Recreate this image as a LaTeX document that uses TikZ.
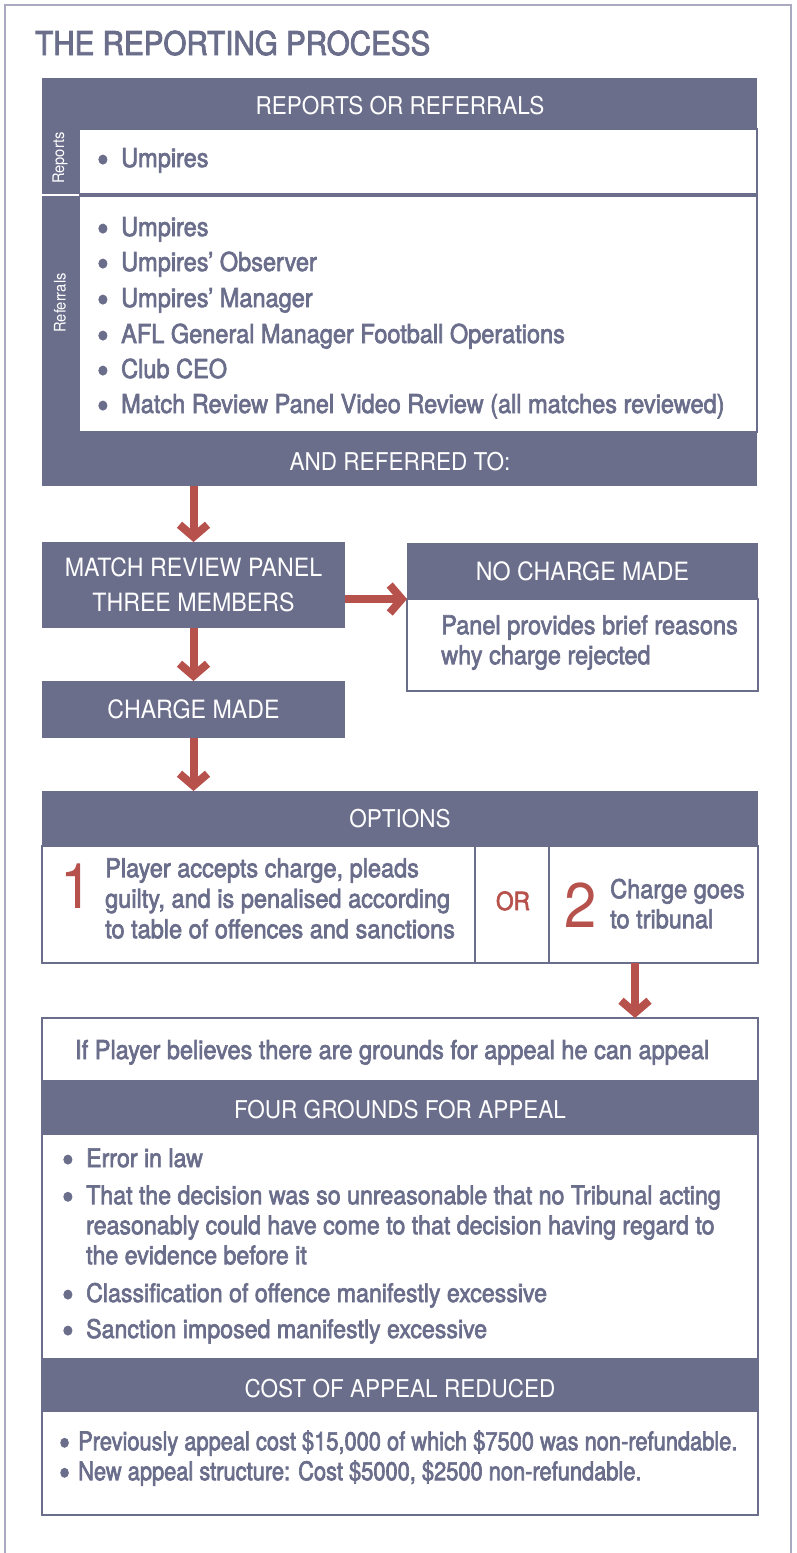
\documentclass[tikz,border=0pt]{standalone}
\usepackage{fontspec}
\setmainfont{TeX Gyre Heros}
\newfontfamily\hdf{TeX Gyre Heros}[FakeStretch=0.92]
\newfontfamily\bdf{TeX Gyre Heros}[FakeStretch=0.905,FakeBold=2.5]
\newfontfamily\cdf{TeX Gyre Heros}[FakeStretch=0.85,FakeBold=2.5]
\usetikzlibrary{arrows.meta}
\definecolor{slate}{HTML}{6A6E8B}
\definecolor{rred}{HTML}{B7514C}
\definecolor{framec}{HTML}{A9AABF}
\tikzset{
  dark/.style={fill=slate, draw=none, inner sep=0pt, outer sep=0pt},
  whitebox/.style={fill=white, draw=slate, line width=2pt, inner sep=0pt, outer sep=0pt},
  hdtext/.style={text=white, font=\hdf\fontsize{24.5}{35}\selectfont, inner sep=0pt},
  bigtext/.style={text=white, font=\hdf\fontsize{25.2}{35}\selectfont, inner sep=0pt},
  sidetext/.style={text=white, font=\hdf\fontsize{16}{18}\selectfont, inner sep=0pt, rotate=90},
  bodytext/.style={text=slate, font=\bdf\fontsize{26}{30}\selectfont, inner sep=0pt, anchor=base west, text height=17pt, text depth=4pt},
  grtext/.style={bodytext, font=\bdf\fontsize{25.6}{30}\selectfont},
  blocktext/.style={text=slate, font=\bdf\fontsize{26}{30}\selectfont, inner sep=0pt, anchor=north west, align=left},
  numtext/.style={text=rred, font=\hdf\fontsize{63}{63}\selectfont, inner sep=0pt, anchor=base west},
  redarrow/.style={draw=rred, line width=8pt, -{Straight Barb[length=12pt,width=28pt]}},
}
\newcommand{\bu}[1][24pt]{\makebox[#1][l]{\raisebox{-5pt}{\fontsize{36}{30}\selectfont •}}}
\newcommand{\tp}{\rule{0pt}{21pt}}
\begin{document}
\begin{tikzpicture}[x=1pt,y=-1pt]
\useasboundingbox (0,0) rectangle (796,1553);
% frame
\draw[framec, line width=1.5pt] (5,1553) -- (5,5) -- (791,5) -- (791,1553);
% title
\node[text=slate, font=\bdf\fontsize{32.7}{36}\selectfont, inner sep=0pt, anchor=base west] (title) at (35,55) {THE REPORTING PROCESS};
% main box
\node[dark, minimum width=715pt, minimum height=408pt] (mainbox) at (399.5,282) {};
\node[whitebox, minimum width=678pt, minimum height=65pt] (repbox) at (418,161.5) {};
\node[whitebox, minimum width=678pt, minimum height=236pt] (refbox) at (418,314) {};
\draw[white, line width=1.5pt] (42,195) -- (79,195);
\node[hdtext, anchor=base] (hrep) at (400,114) {REPORTS OR REFERRALS};
\node[sidetext] (srep) at (60,158) {Reports};
\node[sidetext] (sref) at (60,303) {Referrals};
\node[bodytext] (r1) at (97,167) {\bu Umpires};
\node[bodytext] (f1) at (97,236) {\bu Umpires};
\node[bodytext] (f2) at (97,271) {\bu Umpires’ Observer};
\node[bodytext] (f3) at (97,307) {\bu Umpires’ Manager};
\node[bodytext] (f4) at (97,343) {\bu AFL General Manager Football Operations};
\node[bodytext] (f5) at (97,378) {\bu Club CEO};
\node[bodytext] (f6) at (97,413) {\bu Match Review Panel Video Review (all matches reviewed)};
\node[hdtext, anchor=base] (href) at (400,470) {AND REFERRED TO:};
% match review panel
\node[dark, bigtext, align=center, minimum width=303pt, minimum height=86pt] (mrp) at (193.5,585) {MATCH REVIEW PANEL\\THREE MEMBERS};
% no charge made
\node[dark, bigtext, minimum width=351pt, minimum height=56pt] (ncmh) at (582.5,571) {NO CHARGE MADE};
\node[whitebox, minimum width=351pt, minimum height=92pt] (ncmb) at (582.5,645) {};
\node[blocktext] (ntext) at (441,613) {\tp Panel provides brief reasons\\why charge rejected};
% charge made
\node[dark, bigtext, minimum width=303pt, minimum height=57pt] (charge) at (193.5,709.5) {CHARGE MADE};
% options
\node[dark, hdtext, minimum width=716pt, minimum height=55pt] (opth) at (400,818.5) {OPTIONS};
\node[whitebox, minimum width=716pt, minimum height=117pt] (optb) at (400,904.5) {};
\draw[slate, line width=2pt] (475,846) -- (475,963);
\draw[slate, line width=2pt] (549,846) -- (549,963);
\node[numtext] (n1big) at (60,908) {1};
\node[blocktext, font=\bdf\fontsize{26}{30.5}\selectfont] (otext) at (105,856) {\tp Player accepts charge, pleads\\guilty, and is penalised according\\to table of offences and sanctions};
\node[text=rred, font=\bdf\fontsize{25}{30}\selectfont, inner sep=0pt, anchor=base] (or) at (513,910) {OR};
\node[numtext] (n2big) at (564,927) {2};
\node[blocktext] (ttext) at (610,877) {\tp Charge goes\\to tribunal};
% appeal
\node[whitebox, minimum width=716pt, minimum height=497pt] (appeal) at (400,1266.5) {};
\node[dark, minimum width=716pt, minimum height=55pt] (fourh) at (400,1107.5) {};
\node[hdtext, anchor=base] (fourt) at (400,1118) {FOUR GROUNDS FOR APPEAL};
\node[dark, minimum width=716pt, minimum height=54pt] (costh) at (400,1385) {};
\node[hdtext, anchor=base] (costt) at (400,1397) {COST OF APPEAL REDUCED};
\node[bodytext] (a0) at (75,1059) {If Player believes there are grounds for appeal he can appeal};
\node[grtext] (g1) at (62,1167) {\bu Error in law};
\node[blocktext, font=\bdf\fontsize{25.6}{30}\selectfont] (g2) at (62,1183) {\tp\bu That the decision was so unreasonable that no Tribunal acting\\\makebox[24pt]{}reasonably could have come to that decision having regard to\\\makebox[24pt]{}the evidence before it};
\node[grtext] (g5) at (62,1302) {\bu Classification of offence manifestly excessive};
\node[grtext] (g6) at (62,1338) {\bu Sanction imposed manifestly excessive};
\node[blocktext, font=\cdf\fontsize{25.7}{30}\selectfont] (ctext) at (59,1429) {\tp\bu[19pt]Previously appeal cost \$15,000 of which \$7500 was non-refundable.\\\bu[19pt]New appeal structure: Cost \$5000, \$2500 non-refundable.};
% arrows
\coordinate (a5s) at (635,963);
\draw[redarrow] (mrp.north |- mainbox.south) -- (mrp.north);
\draw[redarrow] (mrp.east |- ncmb.north) -- (ncmb.north west);
\draw[redarrow] (mrp.south) -- (charge.north);
\draw[redarrow] (charge.south) -- (charge.south |- opth.north);
\draw[redarrow] (a5s) -- (a5s |- appeal.north);
\end{tikzpicture}
\end{document}
